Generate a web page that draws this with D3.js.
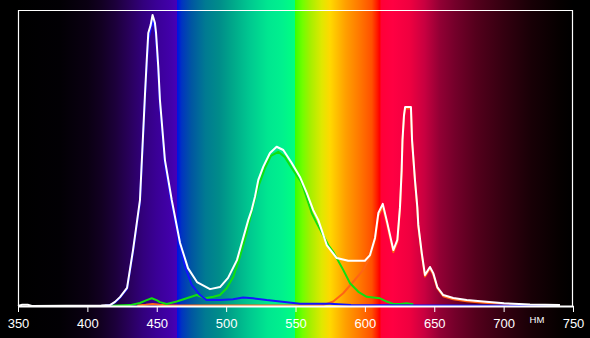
<!DOCTYPE html>
<html>
<head>
<meta charset="utf-8">
<script src="https://cdn.jsdelivr.net/npm/d3@7"></script>
<style>
  html, body { margin: 0; padding: 0; background: #000; }
  svg { display: block; }
</style>
</head>
<body>
<svg id="chart"></svg>
<script>
// wavelength ticks, nm
var xTicks = [350, 400, 450, 500, 550, 600, 650, 700, 750];
var unitLabel = 'НМ';

// [wavelength, relative intensity]
var whiteTotal = [
  [350, 0], [353, 0.004], [357, 0.004], [360, 0], [410, 0.002], [416.3, 0.003], [419.9, 0.014],
  [423.5, 0.030], [428.6, 0.061], [432.9, 0.189], [437.9, 0.358], [441.5, 0.713],
  [442.8, 0.831], [443.9, 0.922], [445.6, 0.949], [447, 0.983], [448.7, 0.956],
  [449.5, 0.922], [450.4, 0.858], [451.1, 0.807], [452.3, 0.696], [455.9, 0.493],
  [460.8, 0.358], [466.8, 0.213], [472.5, 0.128], [479, 0.081], [488.4, 0.057],
  [495.6, 0.064], [501.4, 0.095], [507.8, 0.155], [516, 0.291], [518.4, 0.324],
  [520.8, 0.369], [523.2, 0.426], [526.8, 0.471], [531.6, 0.517], [536.4, 0.538],
  [541.2, 0.527], [547.3, 0.483], [553.2, 0.436], [558.1, 0.382], [562.8, 0.324],
  [566.4, 0.291], [572.5, 0.206], [579.7, 0.162], [588, 0.153], [600, 0.153],
  [603.7, 0.172], [607.3, 0.230], [609.7, 0.314], [612.9, 0.345], [616.2, 0.280],
  [620.5, 0.189], [623.4, 0.223], [625.3, 0.334], [626.5, 0.459], [627.1, 0.561],
  [628.2, 0.645], [629, 0.672], [633.2, 0.672], [634, 0.561], [636.1, 0.426],
  [637.8, 0.334], [638.5, 0.274], [641, 0.179], [643.3, 0.105], [646.9, 0.132],
  [649.3, 0.111], [652.2, 0.064], [656.5, 0.037], [663.7, 0.027], [673.4, 0.020],
  [685.4, 0.015], [700.3, 0.009], [719, 0.005], [740.6, 0.003]
];

var blueChannel = [
  [412.7, 0.002], [416.3, 0.003], [419.9, 0.012], [423.5, 0.028], [428.6, 0.058],
  [432.9, 0.183], [437.9, 0.350], [441.5, 0.700], [442.8, 0.815], [443.9, 0.900],
  [445.6, 0.935], [447, 0.965], [448.7, 0.940], [449.5, 0.905], [450.4, 0.845],
  [451.1, 0.795], [452.3, 0.685], [455.9, 0.480], [460.8, 0.345], [466.8, 0.205],
  [470.4, 0.133], [475.2, 0.071], [481.2, 0.037], [486, 0.020], [495.6, 0.020],
  [505, 0.023], [512.2, 0.029], [519.4, 0.026], [529.2, 0.020], [543.7, 0.013],
  [553.2, 0.008], [575, 0.008], [590, 0.003], [640, 0.002], [700, 0.002], [740.6, 0.002]
];

var greenChannel = [
  [416.3, 0.001], [430.7, 0.003], [437.9, 0.010], [442.3, 0.019], [446.4, 0.026],
  [450.2, 0.019], [452.3, 0.013], [457.2, 0.007], [464.4, 0.015], [471.6, 0.026],
  [478.8, 0.037], [484.8, 0.026], [490.8, 0.031], [495.6, 0.037], [500.4, 0.060],
  [505.2, 0.099], [510, 0.167], [514.8, 0.247], [519.6, 0.341], [523.2, 0.403],
  [528, 0.466], [532.3, 0.507], [537.6, 0.521], [542.4, 0.503], [547.3, 0.466],
  [554.5, 0.416], [561.7, 0.314], [565.3, 0.280], [573.6, 0.206], [577.2, 0.183],
  [584.4, 0.122], [589.3, 0.077], [595.3, 0.048], [601.3, 0.031], [610.9, 0.026],
  [615.7, 0.015], [620.5, 0.007], [625.3, 0.007], [630.1, 0.009], [634.9, 0.006]
];

var redChannel = [
  [436, 0.002], [442, 0.004], [447, 0.007], [452, 0.004], [458, 0.002], [566, 0.002],
  [570, 0.003], [577.2, 0.015], [584.4, 0.043], [591.6, 0.082], [598.9, 0.122],
  [603.7, 0.167], [607.3, 0.226], [609.7, 0.305], [612.9, 0.335], [616.2, 0.272],
  [620.5, 0.182], [623.4, 0.216], [625.3, 0.327], [626.5, 0.452], [627.1, 0.555],
  [628.2, 0.640], [629, 0.667], [633.2, 0.667], [634, 0.556], [636.1, 0.420],
  [637.8, 0.328], [638.5, 0.268], [641, 0.173], [643.3, 0.100], [646.9, 0.127],
  [649.3, 0.106], [652.2, 0.060], [656.5, 0.033], [663.7, 0.023], [673.4, 0.016],
  [685.4, 0.011], [700.3, 0.007], [710, 0.005]
];

// background spectrum colours by wavelength
var spectrumStops = [
  [350, '#000000'], [380, '#020004'], [400, '#0a0012'], [410, '#120022'], [420, '#1c003a'],
  [430, '#28005a'], [440, '#32007c'], [450, '#3a0096'], [460, '#4200aa'], [464.5, '#4600b8'],
  [464.8, '#0010e4'], [468, '#0034c0'], [475, '#0056a2'], [485, '#007a92'], [495, '#008c8a'],
  [505, '#00a88a'], [517, '#00c890'], [530, '#00e690'], [540, '#00f08e'], [549.3, '#00ff80'],
  [549.6, '#38ff00'], [555, '#70ff00'], [560, '#a0f000'], [569, '#e0e800'], [575, '#ffd800'],
  [586, '#ffa000'], [596, '#ff7800'], [605, '#ff5000'], [609, '#ff1800'], [610.5, '#ff0000'],
  [612, '#ff0038'], [620, '#ff0042'], [632, '#f00040'], [643, '#c80040'], [654, '#920034'],
  [665, '#74002a'], [680, '#54001c'], [700, '#340010'], [720, '#180006'], [740, '#060000'],
  [750, '#000000']
];

var width = 590, height = 338;
var svg = d3.select('#chart').attr('width', width).attr('height', height);

var x = d3.scaleLinear().domain([350, 750]).range([18, 573]);
var y = d3.scaleLinear().domain([0, 1]).range([306, 10]);

var grad = svg.append('defs').append('linearGradient')
  .attr('id', 'spectrum')
  .attr('gradientUnits', 'userSpaceOnUse')
  .attr('x1', x(350)).attr('x2', x(750))
  .attr('y1', 0).attr('y2', 0);
grad.selectAll('stop')
  .data(spectrumStops)
  .enter().append('stop')
  .attr('offset', function (d) { return (d[0] - 350) / 400; })
  .attr('stop-color', function (d) { return d[1]; });

svg.append('rect')
  .attr('width', width).attr('height', height)
  .attr('fill', 'url(#spectrum)');

// frame
svg.append('path')
  .attr('d', 'M' + (x(350) + 0.5) + ',' + y(0) + 'V' + (y(1) + 0.5) + 'H' + (x(750) - 0.5) + 'V' + y(0))
  .attr('fill', 'none')
  .attr('stroke', '#fff')
  .attr('stroke-width', 1.2);

var line = d3.line()
  .x(function (d) { return x(d[0]); })
  .y(function (d) { return y(d[1]); });

var series = [
  { data: redChannel, color: '#ff6414' },
  { data: greenChannel, color: '#10e010' },
  { data: blueChannel, color: '#1414ff' },
  { data: whiteTotal, color: '#ffffff' }
];

svg.selectAll('.series')
  .data(series)
  .enter().append('path')
  .attr('class', 'series')
  .attr('d', function (d) { return line(d.data); })
  .attr('fill', 'none')
  .attr('stroke', function (d) { return d.color; })
  .attr('stroke-width', 2)
  .attr('stroke-linejoin', 'round');

var axis = d3.axisBottom(x)
  .tickValues(xTicks)
  .tickSize(6)
  .tickSizeOuter(0)
  .tickPadding(7);

var gx = svg.append('g')
  .attr('transform', 'translate(0,' + y(0) + ')')
  .call(axis);
gx.select('.domain').attr('stroke', '#fff').attr('stroke-width', 1.8);
gx.selectAll('.tick line').attr('stroke', '#fff');
gx.selectAll('.tick text')
  .attr('fill', '#fff')
  .attr('font-family', 'Liberation Sans, Arial, sans-serif')
  .attr('font-size', 13);

svg.append('text')
  .attr('x', 537).attr('y', 323)
  .attr('text-anchor', 'middle')
  .attr('fill', '#fff')
  .attr('font-family', 'Liberation Sans, Arial, sans-serif')
  .attr('font-size', 9.5)
  .text(unitLabel);
</script>
</body>
</html>
